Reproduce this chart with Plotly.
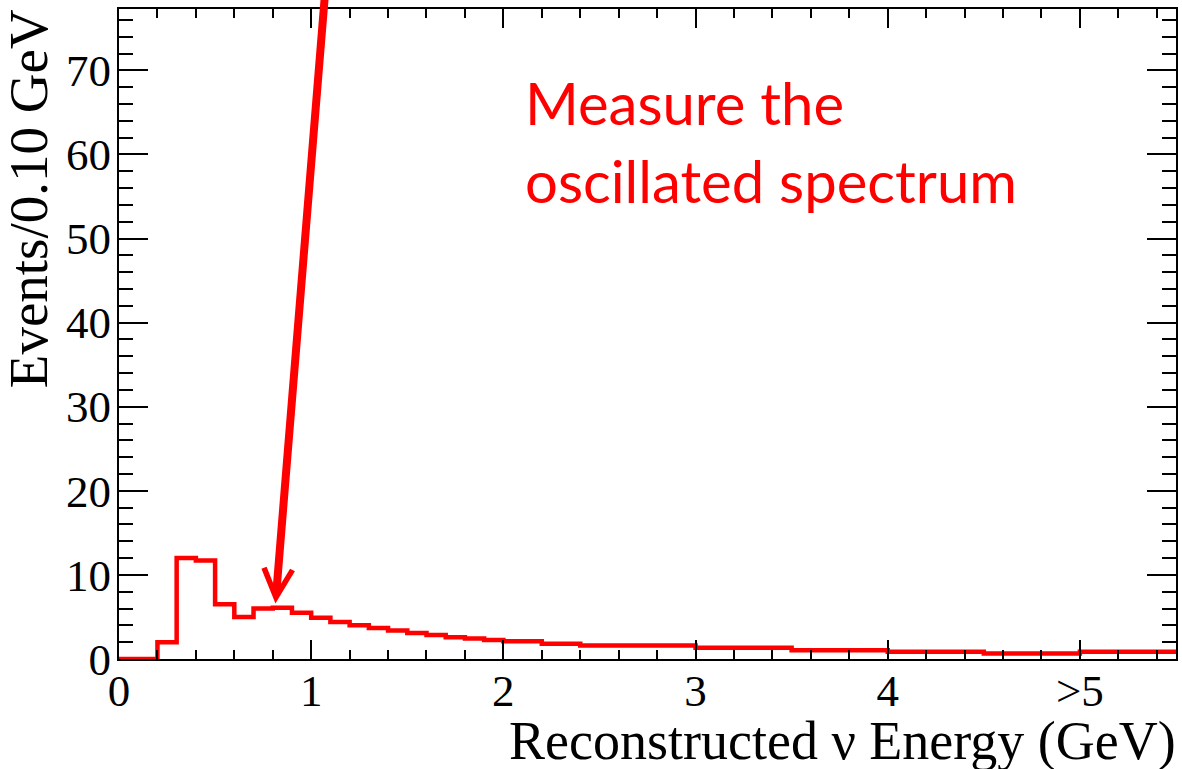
import plotly.graph_objects as go

# ---- data ----
bin_edges = [0.0, 0.1, 0.2, 0.3, 0.4, 0.5, 0.6, 0.7, 0.8, 0.9, 1.0,
             1.1, 1.2, 1.3, 1.4, 1.5, 1.6, 1.7, 1.8, 1.9, 2.0,
             2.2, 2.4, 3.0, 3.5, 4.0, 4.5, 5.0, 5.5]
events = [0.0, 0.0, 2.0, 12.0, 11.7, 6.5, 5.0, 6.0, 6.1, 5.5,
          4.9, 4.4, 4.0, 3.7, 3.4, 3.1, 2.85, 2.6, 2.45, 2.25,
          2.1, 1.8, 1.6, 1.35, 1.05, 0.85, 0.65, 0.85]
x_tick_vals = [0, 1, 2, 3, 4, 5]
x_tick_text = ["0", "1", "2", "3", "4", ">5"]
y_tick_vals = [0, 10, 20, 30, 40, 50, 60, 70]
arrow_tip = (0.814, 6.6)
arrow_tail = (1.075, 80.0)

W, H = 1182, 769
ML, MR, MT, MB = 119, 4, 9, 110
PW, PH = W - ML - MR, H - MT - MB


def px(xp):
    return (xp - ML) / PW


def py(yp):
    return (H - MB - yp) / PH


RED = "#ff0000"
SERIF = "Liberation Serif, Times New Roman, serif"

fig = go.Figure()
fig.add_trace(go.Scatter(
    x=bin_edges,
    y=events + [events[-1]],
    mode="lines",
    line=dict(color=RED, width=4.5, shape="hv"),
    hoverinfo="skip",
    showlegend=False,
))

common_axis = dict(
    showline=True, linecolor="black", linewidth=2, mirror="allticks",
    ticks="inside", tickcolor="black", tickwidth=2,
    showgrid=False, zeroline=False,
    tickfont=dict(family=SERIF, size=45, color="black"),
)

fig.update_xaxes(
    range=[0, 5.5], tickvals=x_tick_vals, ticktext=x_tick_text, ticklen=19,
    ticklabelstandoff=-9,
    minor=dict(dtick=0.2, tick0=0, ticklen=9, tickwidth=2, tickcolor="black", ticks="inside", showgrid=False),
    **common_axis,
)
fig.update_yaxes(
    range=[0, 77.3], tickvals=y_tick_vals, ticklen=29,
    ticklabelstandoff=-3,
    minor=dict(dtick=2, tick0=0, ticklen=14, tickwidth=2, tickcolor="black", ticks="inside", showgrid=False),
    **common_axis,
)

annotations = [
    # arrow
    dict(x=arrow_tip[0], y=arrow_tip[1], ax=arrow_tail[0], ay=arrow_tail[1],
         xref="x", yref="y", axref="x", ayref="y", text="",
         showarrow=True, arrowhead=5, arrowsize=0.7, arrowwidth=8, arrowcolor=RED),
    # red text
    dict(x=px(524), y=py(103), xref="paper", yref="paper", xanchor="left", yanchor="middle",
         text="Measure the", showarrow=False,
         font=dict(family="Lato", size=58, color=RED)),
    dict(x=px(524), y=py(181), xref="paper", yref="paper", xanchor="left", yanchor="middle",
         text="oscillated spectrum", showarrow=False,
         font=dict(family="Lato", size=58, color=RED)),
    # axis titles
    dict(x=px(1180), y=py(741), xref="paper", yref="paper", xanchor="right", yanchor="middle",
         text="Reconstructed ν Energy (GeV)", showarrow=False,
         font=dict(family=SERIF, size=54, color="black")),
    dict(x=px(29), y=py(199), xref="paper", yref="paper", xanchor="center", yanchor="middle",
         text="Events/0.10 GeV", textangle=-90, showarrow=False,
         font=dict(family=SERIF, size=55, color="black")),
]

fig.update_layout(
    width=W, height=H,
    margin=dict(l=ML, r=MR, t=MT, b=MB, pad=0),
    paper_bgcolor="white", plot_bgcolor="white",
    annotations=annotations,
    showlegend=False,
)

fig.write_html("out.html")
